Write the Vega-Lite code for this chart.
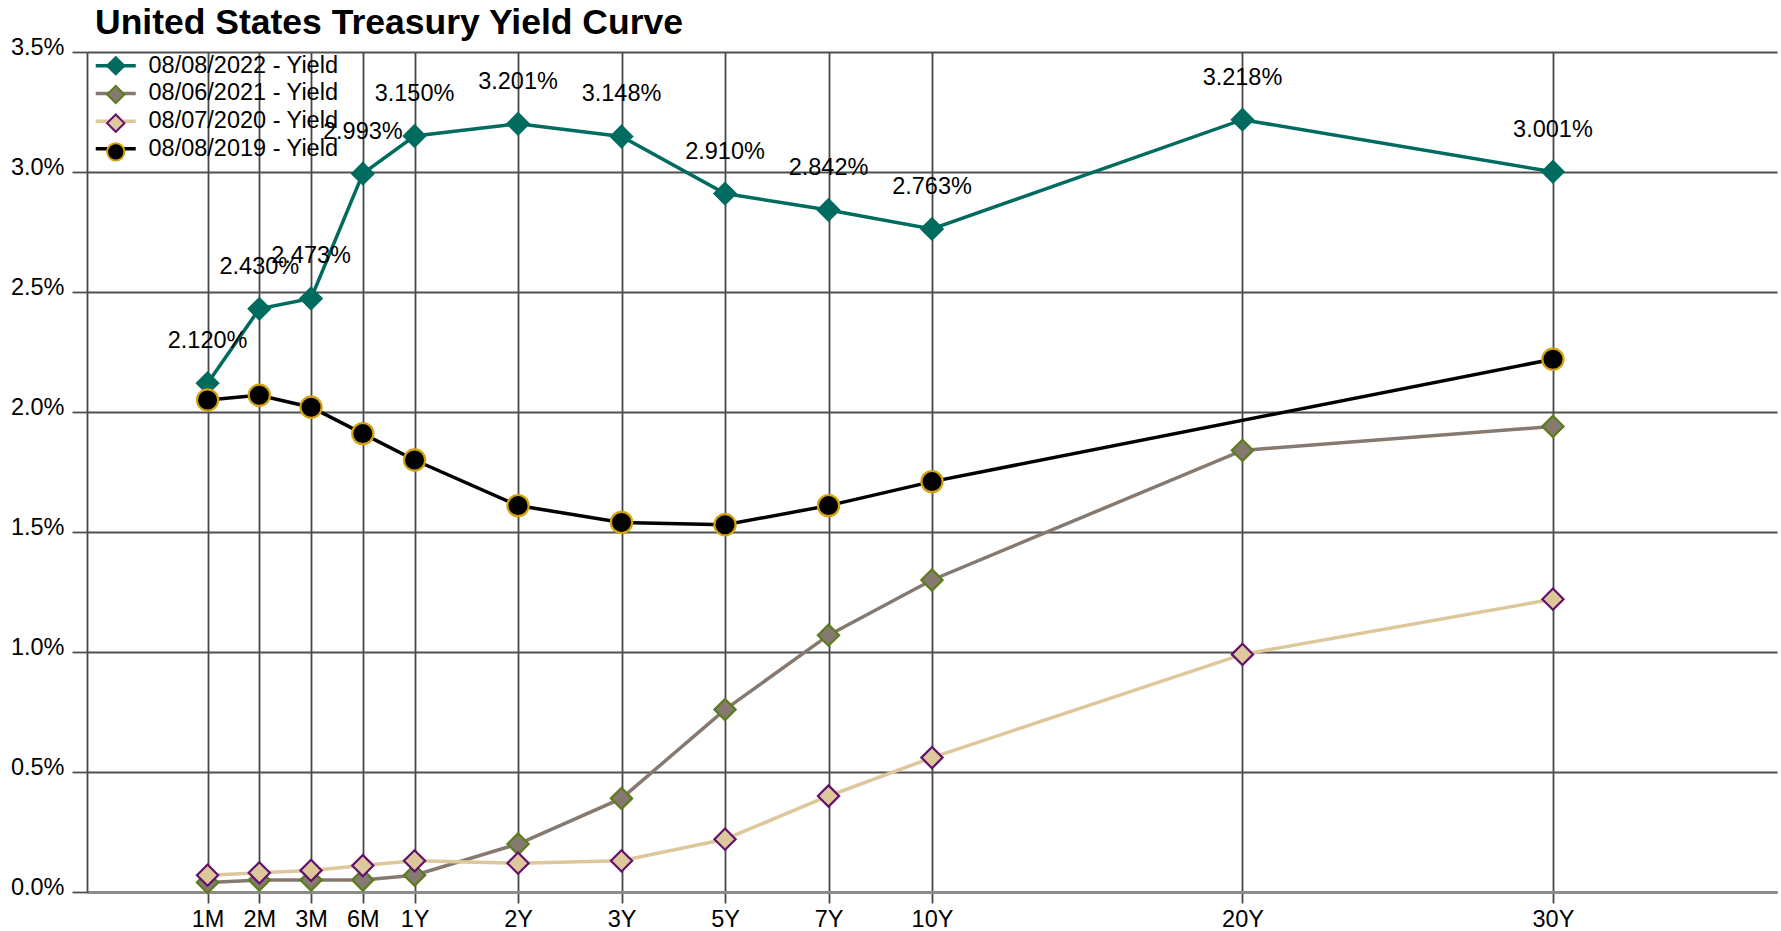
{
  "$schema": "https://vega.github.io/schema/vega-lite/v6.json",
  "width": 1690,
  "height": 840,
  "autosize": {"type": "none"},
  "padding": {"left": 87, "top": 52, "right": 4, "bottom": 39},
  "background": "white",
  "title": {
    "text": "United States Treasury Yield Curve",
    "anchor": "start",
    "frame": "group",
    "font": "Liberation Sans",
    "fontSize": 35.5,
    "fontWeight": "bold",
    "color": "black",
    "baseline": "alphabetic",
    "offset": 2,
    "dx": 8,
    "dy": 36
  },
  "data": {
    "values": [
      {"date": "08/08/2022", "series": "08/08/2022 - Yield", "tenor": "1M", "pos": 0, "yield": 0.02120},
      {"date": "08/08/2022", "series": "08/08/2022 - Yield", "tenor": "2M", "pos": 1, "yield": 0.02430},
      {"date": "08/08/2022", "series": "08/08/2022 - Yield", "tenor": "3M", "pos": 2, "yield": 0.02473},
      {"date": "08/08/2022", "series": "08/08/2022 - Yield", "tenor": "6M", "pos": 3, "yield": 0.02993},
      {"date": "08/08/2022", "series": "08/08/2022 - Yield", "tenor": "1Y", "pos": 4, "yield": 0.03150},
      {"date": "08/08/2022", "series": "08/08/2022 - Yield", "tenor": "2Y", "pos": 6, "yield": 0.03201},
      {"date": "08/08/2022", "series": "08/08/2022 - Yield", "tenor": "3Y", "pos": 8, "yield": 0.03148},
      {"date": "08/08/2022", "series": "08/08/2022 - Yield", "tenor": "5Y", "pos": 10, "yield": 0.02910},
      {"date": "08/08/2022", "series": "08/08/2022 - Yield", "tenor": "7Y", "pos": 12, "yield": 0.02842},
      {"date": "08/08/2022", "series": "08/08/2022 - Yield", "tenor": "10Y", "pos": 14, "yield": 0.02763},
      {"date": "08/08/2022", "series": "08/08/2022 - Yield", "tenor": "20Y", "pos": 20, "yield": 0.03218},
      {"date": "08/08/2022", "series": "08/08/2022 - Yield", "tenor": "30Y", "pos": 26, "yield": 0.03001},
      {"date": "08/06/2021", "series": "08/06/2021 - Yield", "tenor": "1M", "pos": 0, "yield": 0.0004},
      {"date": "08/06/2021", "series": "08/06/2021 - Yield", "tenor": "2M", "pos": 1, "yield": 0.0005},
      {"date": "08/06/2021", "series": "08/06/2021 - Yield", "tenor": "3M", "pos": 2, "yield": 0.0005},
      {"date": "08/06/2021", "series": "08/06/2021 - Yield", "tenor": "6M", "pos": 3, "yield": 0.0005},
      {"date": "08/06/2021", "series": "08/06/2021 - Yield", "tenor": "1Y", "pos": 4, "yield": 0.0007},
      {"date": "08/06/2021", "series": "08/06/2021 - Yield", "tenor": "2Y", "pos": 6, "yield": 0.0020},
      {"date": "08/06/2021", "series": "08/06/2021 - Yield", "tenor": "3Y", "pos": 8, "yield": 0.0039},
      {"date": "08/06/2021", "series": "08/06/2021 - Yield", "tenor": "5Y", "pos": 10, "yield": 0.0076},
      {"date": "08/06/2021", "series": "08/06/2021 - Yield", "tenor": "7Y", "pos": 12, "yield": 0.0107},
      {"date": "08/06/2021", "series": "08/06/2021 - Yield", "tenor": "10Y", "pos": 14, "yield": 0.0130},
      {"date": "08/06/2021", "series": "08/06/2021 - Yield", "tenor": "20Y", "pos": 20, "yield": 0.0184},
      {"date": "08/06/2021", "series": "08/06/2021 - Yield", "tenor": "30Y", "pos": 26, "yield": 0.0194},
      {"date": "08/07/2020", "series": "08/07/2020 - Yield", "tenor": "1M", "pos": 0, "yield": 0.0007},
      {"date": "08/07/2020", "series": "08/07/2020 - Yield", "tenor": "2M", "pos": 1, "yield": 0.0008},
      {"date": "08/07/2020", "series": "08/07/2020 - Yield", "tenor": "3M", "pos": 2, "yield": 0.0009},
      {"date": "08/07/2020", "series": "08/07/2020 - Yield", "tenor": "6M", "pos": 3, "yield": 0.0011},
      {"date": "08/07/2020", "series": "08/07/2020 - Yield", "tenor": "1Y", "pos": 4, "yield": 0.0013},
      {"date": "08/07/2020", "series": "08/07/2020 - Yield", "tenor": "2Y", "pos": 6, "yield": 0.0012},
      {"date": "08/07/2020", "series": "08/07/2020 - Yield", "tenor": "3Y", "pos": 8, "yield": 0.0013},
      {"date": "08/07/2020", "series": "08/07/2020 - Yield", "tenor": "5Y", "pos": 10, "yield": 0.0022},
      {"date": "08/07/2020", "series": "08/07/2020 - Yield", "tenor": "7Y", "pos": 12, "yield": 0.0040},
      {"date": "08/07/2020", "series": "08/07/2020 - Yield", "tenor": "10Y", "pos": 14, "yield": 0.0056},
      {"date": "08/07/2020", "series": "08/07/2020 - Yield", "tenor": "20Y", "pos": 20, "yield": 0.0099},
      {"date": "08/07/2020", "series": "08/07/2020 - Yield", "tenor": "30Y", "pos": 26, "yield": 0.0122},
      {"date": "08/08/2019", "series": "08/08/2019 - Yield", "tenor": "1M", "pos": 0, "yield": 0.0205},
      {"date": "08/08/2019", "series": "08/08/2019 - Yield", "tenor": "2M", "pos": 1, "yield": 0.0207},
      {"date": "08/08/2019", "series": "08/08/2019 - Yield", "tenor": "3M", "pos": 2, "yield": 0.0202},
      {"date": "08/08/2019", "series": "08/08/2019 - Yield", "tenor": "6M", "pos": 3, "yield": 0.0191},
      {"date": "08/08/2019", "series": "08/08/2019 - Yield", "tenor": "1Y", "pos": 4, "yield": 0.0180},
      {"date": "08/08/2019", "series": "08/08/2019 - Yield", "tenor": "2Y", "pos": 6, "yield": 0.0161},
      {"date": "08/08/2019", "series": "08/08/2019 - Yield", "tenor": "3Y", "pos": 8, "yield": 0.0154},
      {"date": "08/08/2019", "series": "08/08/2019 - Yield", "tenor": "5Y", "pos": 10, "yield": 0.0153},
      {"date": "08/08/2019", "series": "08/08/2019 - Yield", "tenor": "7Y", "pos": 12, "yield": 0.0161},
      {"date": "08/08/2019", "series": "08/08/2019 - Yield", "tenor": "10Y", "pos": 14, "yield": 0.0171},
      {"date": "08/08/2019", "series": "08/08/2019 - Yield", "tenor": "30Y", "pos": 26, "yield": 0.0222}
    ]
  },
  "encoding": {
    "x": {
      "field": "pos",
      "type": "quantitative",
      "scale": {"domain": [-2.33, 30.33], "nice": false, "zero": false},
      "axis": {
        "values": [0, 1, 2, 3, 4, 6, 8, 10, 12, 14, 20, 26],
        "labelExpr": "['1M','2M','3M','6M','1Y','','2Y','','3Y','','5Y','','7Y','','10Y','','','','','','20Y','','','','','','30Y'][datum.value]",
        "title": null,
        "grid": true,
        "gridColor": "#474747",
        "gridWidth": 1.8,
        "gridOpacity": 1,
        "tickColor": "#474747",
        "tickWidth": 1.8,
        "tickSize": 11,
        "domainColor": "#8c8c8c",
        "domainWidth": 3,
        "labelFont": "Liberation Sans",
        "labelFontSize": 23.5,
        "labelColor": "black",
        "labelPadding": 4,
        "labelBaseline": "top",
        "labelFlush": false,
        "labelOverlap": false
      }
    },
    "y": {
      "field": "yield",
      "type": "quantitative",
      "scale": {"domain": [0, 0.035], "nice": false, "zero": true},
      "axis": {
        "values": [0, 0.005, 0.01, 0.015, 0.02, 0.025, 0.03, 0.035],
        "format": ".1%",
        "title": null,
        "grid": true,
        "gridColor": "#505050",
        "gridWidth": 1.8,
        "gridOpacity": 1,
        "tickColor": "#505050",
        "tickWidth": 1.8,
        "tickSize": 15,
        "domainColor": "#474747",
        "domainWidth": 1.8,
        "labelFont": "Liberation Sans",
        "labelFontSize": 23.5,
        "labelColor": "black",
        "labelBaseline": "alphabetic",
        "labelOffset": 2,
        "labelPadding": 8,
        "labelFlush": false,
        "labelOverlap": false
      }
    }
  },
  "layer": [
    {
      "mark": {"type": "line", "strokeWidth": 3.5},
      "encoding": {
        "color": {
          "field": "series",
          "type": "nominal",
          "scale": {
            "domain": ["08/08/2022 - Yield", "08/06/2021 - Yield", "08/07/2020 - Yield", "08/08/2019 - Yield"],
            "range": ["#006b5f", "#857970", "#dcc89b", "#000000"]
          },
          "legend": {
            "orient": "none",
            "legendX": 17,
            "legendY": 2,
            "title": null,
            "padding": 0,
            "symbolType": "M-2.31,0H2.31",
            "symbolSize": 300,
            "symbolStrokeWidth": 3.5,
            "labelFont": "Liberation Sans",
            "labelFontSize": 23.5,
            "labelColor": "black",
            "labelOffset": 21,
            "labelLimit": 0,
            "rowPadding": 2.7,
            "zindex": 0
          }
        }
      }
    },
    {
      "mark": {"type": "point", "filled": true, "size": 450, "strokeWidth": 2.2, "opacity": 1},
      "encoding": {
        "fill": {
          "field": "date",
          "type": "nominal",
          "scale": {
            "domain": ["08/08/2022", "08/06/2021", "08/07/2020", "08/08/2019"],
            "range": ["#006b5f", "#857970", "#dcc89b", "#000000"]
          },
          "legend": {
            "orient": "none",
            "legendX": 17,
            "legendY": 2,
            "title": null,
            "padding": 0,
            "symbolSize": 300,
            "symbolStrokeWidth": 2,
            "symbolOpacity": 1,
            "labelFont": "Liberation Sans",
            "labelFontSize": 23.5,
            "labelExpr": "''",
            "labelOffset": 21,
            "labelLimit": 0,
            "rowPadding": 2.7,
            "zindex": 1
          }
        },
        "stroke": {
          "field": "date",
          "type": "nominal",
          "scale": {
            "domain": ["08/08/2022", "08/06/2021", "08/07/2020", "08/08/2019"],
            "range": ["#006b5f", "#5b7d1c", "#64106f", "#d4a20c"]
          }
        },
        "shape": {
          "field": "date",
          "type": "nominal",
          "scale": {
            "domain": ["08/08/2022", "08/06/2021", "08/07/2020", "08/08/2019"],
            "range": ["diamond", "diamond", "diamond", "circle"]
          }
        }
      }
    },
    {
      "transform": [{"filter": "datum.date === '08/08/2022'"}],
      "mark": {"type": "text", "dy": -35, "baseline": "alphabetic", "align": "center", "font": "Liberation Sans", "fontSize": 23.5, "color": "black"},
      "encoding": {
        "text": {"field": "yield", "type": "quantitative", "format": ".3%"}
      }
    }
  ],
  "config": {
    "font": "Liberation Sans",
    "view": {"stroke": null}
  }
}
